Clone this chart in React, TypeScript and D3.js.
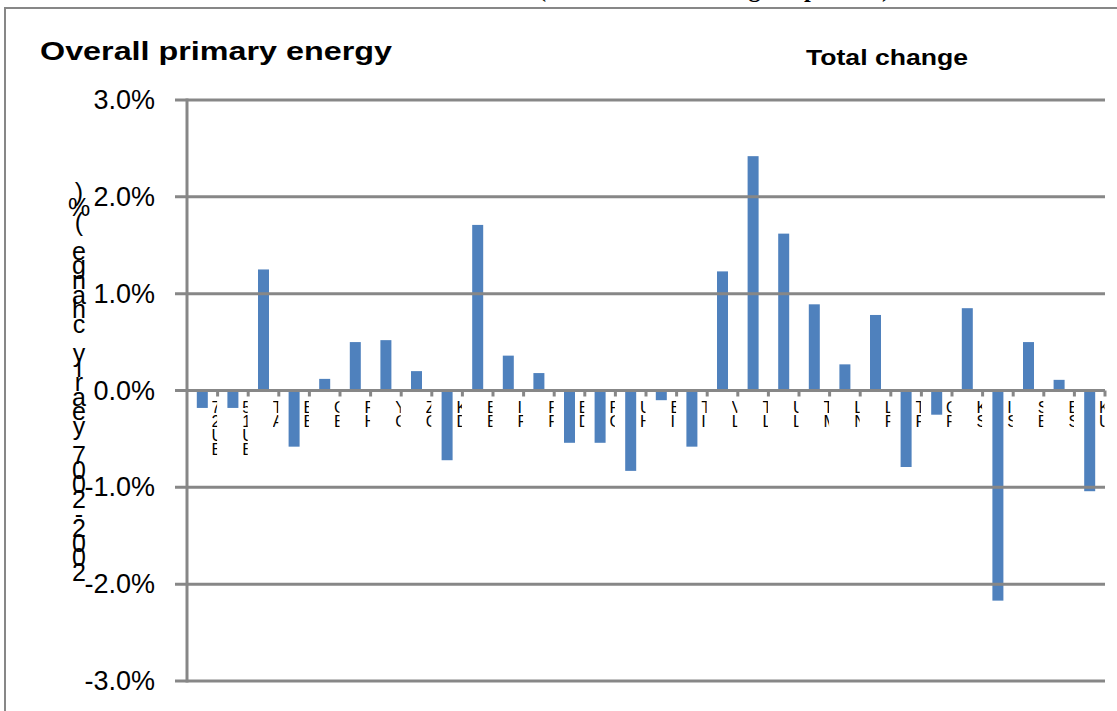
import React from "react";
import * as d3 from "d3";

const categories = [
  "EU27", "EU15", "AT", "BE", "BG", "HR", "CY", "CZ", "DK", "EE",
  "FI", "FR", "DE", "GR", "HU", "IE", "IT", "LV", "LT", "LU",
  "MT", "NL", "PL", "PT", "RO", "SK", "SI", "ES", "SE", "UK",
];
const values = [
  -0.18, -0.18, 1.25, -0.58, 0.12, 0.5, 0.52, 0.2, -0.72, 1.71,
  0.36, 0.18, -0.54, -0.54, -0.83, -0.1, -0.58, 1.23, 2.42, 1.62,
  0.89, 0.27, 0.78, -0.79, -0.25, 0.85, -2.17, 0.5, 0.11, -1.04,
];
const yTicks = [-3, -2, -1, 0, 1, 2, 3];
const title = "Overall primary energy";
const subtitle = "Total change";
const yTitle = "2002-2007 yearly change (%)";
const topTitle = "(annual rate of change in percent)";

const W = 1117;
const H = 711;
const plotLeft = 187;
const plotRight = 1105;
const plotTop = 100;
const plotBottom = 681;
const GRID = "#878787";
const BAR = "#4F81BD";

export default function App() {
  const x = d3.scaleBand<string>().domain(categories).range([plotLeft, plotRight]).padding(0);
  const y = d3.scaleLinear().domain([-3, 3]).range([plotBottom, plotTop]);
  const bw = x.bandwidth();
  const barW = 11;
  const y0 = y(0);
  const fmt = (t: number) => d3.format(".1f")(t).replace("\u2212", "-") + "%";

  const yTitleChars = yTitle.split("");
  const yTitleStep = 14.6;
  const yTitleBottom = 572;

  return (
    <svg
      width={W}
      height={H}
      style={{ position: "absolute", left: 0, top: 0, background: "#fff" }}
    >
      <defs>
        {categories.map((c, i) => {
          const tx = (x(c) as number) + bw;
          return (
            <clipPath id={`lbl${i}`} key={c}>
              <rect x={tx - 6} y={396} width={5.5} height={80} />
            </clipPath>
          );
        })}
      </defs>
      <rect x={0} y={0} width={W} height={H} fill="#fff" />
      {/* clipped top title */}
      <text
        x={538}
        y={-3}
        fontFamily="'Liberation Serif', 'Times New Roman', serif"
        fontWeight="bold"
        fontSize={24}
        textLength={352}
        lengthAdjust="spacingAndGlyphs"
        fill="#000"
      >
        {topTitle}
      </text>
      {/* outer border */}
      <rect x={5} y={8} width={W + 20} height={H + 20} fill="none" stroke={GRID} strokeWidth={2} />

      <text
        x={40}
        y={60}
        fontFamily="'Liberation Sans', Arial, sans-serif"
        fontWeight="bold"
        fontSize={26}
        textLength={352}
        lengthAdjust="spacingAndGlyphs"
      >
        {title}
      </text>
      <text
        x={806}
        y={65}
        fontFamily="'Liberation Sans', Arial, sans-serif"
        fontWeight="bold"
        fontSize={22}
        textLength={162}
        lengthAdjust="spacingAndGlyphs"
      >
        {subtitle}
      </text>

      {/* y axis title: stacked upright characters, read bottom-up */}
      <g fontFamily="'Liberation Sans', Arial, sans-serif" fontSize={25} fill="#000">
        {yTitleChars.map((ch, i) => (
          <text
            key={i}
            x={79}
            y={yTitleBottom - i * yTitleStep}
            textAnchor="middle"
            dominantBaseline="central"
          >
            {ch}
          </text>
        ))}
      </g>

      {/* bars */}
      {categories.map((c, i) => {
        const v = values[i];
        const yy = y(v);
        return (
          <rect
            key={c}
            x={(x(c) as number) + (bw - barW) / 2}
            y={Math.min(yy, y0)}
            width={barW}
            height={Math.abs(yy - y0)}
            fill={BAR}
          />
        );
      })}

      {/* gridlines & y ticks */}
      {yTicks.map((t) => (
        <g key={t}>
          <line x1={175} x2={plotRight} y1={y(t)} y2={y(t)} stroke={GRID} strokeWidth={3} />
          <text
            x={155}
            y={y(t)}
            textAnchor="end"
            dominantBaseline="central"
            fontFamily="'Liberation Sans', Arial, sans-serif"
            fontSize={27}
          >
            {fmt(t)}
          </text>
        </g>
      ))}
      {/* y axis */}
      <line x1={plotLeft} x2={plotLeft} y1={plotTop - 1.5} y2={plotBottom + 1.5} stroke={GRID} strokeWidth={3} />

      {/* category ticks */}
      {categories.map((c) => {
        const tx = (x(c) as number) + bw;
        return <line key={c} x1={tx} x2={tx} y1={y0} y2={y0 + 6} stroke={GRID} strokeWidth={3} />;
      })}

      {/* category labels: stacked, clipped */}
      <g fontFamily="'Liberation Sans', Arial, sans-serif" fontSize={16} fill="#000">
        {categories.map((c, i) => {
          const tx = (x(c) as number) + bw;
          const chars = c.split("").reverse();
          return (
            <g key={c} clipPath={`url(#lbl${i})`}>
              {chars.map((ch, k) => (
                <text key={k} x={tx - 6} y={407 + k * 14} dominantBaseline="central">
                  {ch}
                </text>
              ))}
            </g>
          );
        })}
      </g>
    </svg>
  );
}
